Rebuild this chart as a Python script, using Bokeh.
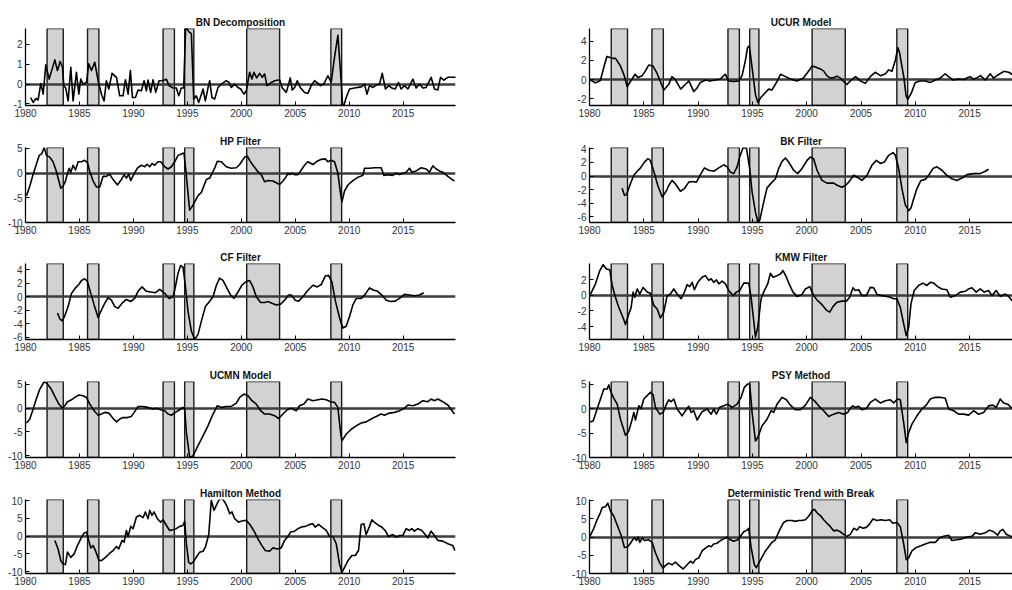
from bokeh.plotting import figure
from bokeh.layouts import gridplot
from bokeh.models import FixedTicker
from bokeh.embed import file_html
from bokeh.resources import INLINE

# Recession dates (start, end) in decimal years
REC_START = [1982.0, 1985.75, 1992.75, 1994.75, 2000.5, 2008.3]
REC_END = [1983.5, 1986.8, 1993.8, 1995.6, 2003.55, 2009.3]

YEAR_TICKS = [1980, 1985, 1990, 1995, 2000, 2005, 2010, 2015]

# Output-gap estimates: (year, gap in %)
BN_DECOMP = [
    (1980.49, -0.68), (1980.71, -0.93), (1980.96, -0.73), (1981.17, -0.80), (1981.42, 0.03),
    (1981.64, -0.51), (1981.88, 0.97), (1982.19, 0.25), (1982.72, 1.22), (1982.96, 0.68),
    (1983.21, 1.14), (1983.43, 0.85), (1983.55, -0.08), (1983.73, -0.20), (1983.95, -0.85),
    (1984.20, 0.85), (1984.41, -0.85), (1984.72, 0.59), (1984.94, -0.51), (1985.12, 0.25),
    (1985.34, 0.00), (1985.65, 0.08), (1985.86, 1.02), (1986.11, 0.68), (1986.42, 1.10),
    (1986.73, 0.17), (1987.04, -0.51), (1987.28, -0.85), (1987.50, 0.17), (1987.72, -0.25),
    (1988.02, 0.54), (1988.43, 0.34), (1988.73, -0.59), (1989.04, -0.59), (1989.26, 0.22),
    (1989.51, -0.51), (1989.72, 0.68), (1989.91, -0.68), (1990.19, -0.68), (1990.43, -0.30),
    (1990.74, -0.34), (1990.99, 0.17), (1991.20, -0.34), (1991.36, 0.20), (1991.60, -0.42),
    (1991.82, 0.22), (1992.07, -0.42), (1992.38, 0.17), (1992.69, 0.17), (1993.06, 0.24),
    (1993.30, -0.08), (1993.67, -0.20), (1993.98, -0.20), (1994.20, -0.59), (1994.44, -0.20),
    (1994.66, -0.20), (1994.85, 2.90), (1995.15, 2.63), (1995.37, 2.54), (1995.59, -0.76),
    (1995.83, -0.59), (1996.05, -0.93), (1996.30, -0.51), (1996.45, -0.25), (1996.67, -0.85),
    (1996.91, -0.20), (1997.07, 0.17), (1997.28, -0.68), (1997.53, -0.76), (1997.84, -0.17),
    (1998.15, 0.00), (1998.61, 0.17), (1998.86, 0.08), (1999.07, -0.17), (1999.38, 0.00),
    (1999.69, -0.17), (1999.94, -0.25), (2000.25, -0.51), (2000.46, -0.34), (2000.77, 0.59),
    (2000.99, 0.25), (2001.17, 0.59), (2001.42, 0.31), (2001.70, 0.54), (2001.94, 0.34),
    (2002.16, 0.51), (2002.38, -0.08), (2002.78, 0.08), (2003.09, 0.17), (2003.55, 0.22),
    (2003.80, -0.20), (2004.17, -0.42), (2004.54, 0.31), (2004.72, -0.30), (2004.94, -0.17),
    (2005.19, 0.17), (2005.46, -0.17), (2005.86, -0.42), (2006.17, -0.47), (2006.48, -0.08),
    (2006.79, 0.17), (2007.10, 0.03), (2007.35, -0.08), (2007.65, 0.00), (2008.02, 0.42),
    (2008.33, 0.08), (2008.64, 1.36), (2008.95, 2.46), (2009.26, 0.08), (2009.41, -1.25),
    (2009.72, -0.68), (2010.03, -0.25), (2010.49, -0.20), (2011.11, -0.14), (2011.42, 0.00),
    (2011.64, -0.51), (2011.88, -0.08), (2012.19, -0.17), (2012.50, -0.05), (2012.81, 0.00),
    (2013.06, 0.54), (2013.36, -0.25), (2013.67, -0.08), (2013.95, -0.20), (2014.26, -0.25),
    (2014.57, 0.08), (2014.81, -0.25), (2015.12, -0.08), (2015.43, -0.25), (2015.90, 0.25),
    (2016.20, -0.20), (2016.51, 0.00), (2016.82, -0.20), (2017.13, -0.17), (2017.59, 0.34),
    (2017.90, -0.25), (2018.21, -0.30), (2018.46, 0.34), (2018.77, 0.20), (2019.14, 0.34),
    (2019.91, 0.34),
]

UCUR_MODEL = [
    (1980.0, 0.0), (1980.55, -0.35), (1981.0, -0.1), (1981.3, 1.2), (1981.6, 2.4),
    (1982.1, 2.2), (1982.4, 2.2), (1982.85, 1.4), (1983.2, 0.4), (1983.47, -0.75),
    (1983.8, -0.15), (1984.2, 0.55), (1984.45, 0.2), (1984.85, 0.4), (1985.15, 0.9),
    (1985.45, 1.5), (1985.85, 1.4), (1986.2, 0.7), (1986.5, -0.15), (1986.85, -1.1),
    (1987.3, -0.5), (1987.6, 0.3), (1987.9, 0.0), (1988.4, -1.0), (1988.7, -0.65),
    (1989.15, -0.15), (1989.6, -1.25), (1989.9, -0.9), (1990.2, -0.3), (1990.7, -0.05),
    (1991.1, -0.15), (1991.6, -0.05), (1992.05, 0.05), (1992.5, 0.55), (1992.8, -0.15),
    (1993.3, -0.2), (1993.75, -0.15), (1994.05, 0.4), (1994.35, 1.95), (1994.55, 3.3),
    (1994.72, 3.5), (1994.97, 1.25), (1995.28, -1.55), (1995.5, -2.4), (1995.75, -1.9),
    (1996.2, -1.35), (1996.5, -1.0), (1996.8, -1.1), (1997.3, -0.15), (1997.6, 0.55),
    (1998.05, 0.3), (1998.5, 0.05), (1999.1, -0.15), (1999.7, 0.15), (2000.2, 0.9),
    (2000.5, 1.4), (2000.8, 1.3), (2001.25, 1.1), (2001.55, 0.9), (2001.85, 0.4),
    (2002.2, 0.15), (2002.5, 0.2), (2002.8, 0.35), (2003.1, 0.15), (2003.4, -0.2),
    (2003.7, -0.5), (2004.2, 0.05), (2004.5, 0.3), (2004.95, -0.15), (2005.4, -0.4),
    (2005.85, 0.3), (2006.3, 0.75), (2006.8, 0.4), (2007.25, 0.6), (2007.55, 1.0),
    (2007.85, 0.85), (2008.15, 1.95), (2008.4, 3.3), (2008.55, 2.8), (2008.95, 0.2),
    (2009.15, -1.7), (2009.3, -2.05), (2009.6, -1.5), (2010.0, -0.3), (2010.45, -0.15),
    (2010.9, -0.15), (2011.4, -0.3), (2011.85, -0.05), (2012.3, 0.15), (2012.75, 0.6),
    (2013.05, 0.3), (2013.5, -0.05), (2013.95, 0.05), (2014.45, 0.0), (2014.75, 0.15),
    (2015.05, 0.3), (2015.35, 0.05), (2015.65, 0.15), (2016.0, 0.4), (2016.45, -0.05),
    (2016.9, 0.6), (2017.2, 0.15), (2017.65, 0.5), (2018.15, 0.85), (2018.6, 0.75),
    (2018.9, 0.55), (2019.3, 0.5), (2019.9, 0.45),
]

HP_FILTER = [
    (1980.1, -4.6), (1980.4, -2.6), (1980.7, -0.3), (1981.0, 1.75), (1981.27, 3.6),
    (1981.5, 3.9), (1981.73, 5.2), (1981.95, 3.6), (1982.25, 3.25), (1982.55, 2.3),
    (1982.87, 0.3), (1983.27, -3.05), (1983.49, -2.6), (1983.7, -1.6), (1983.9, 0.0),
    (1984.05, 1.0), (1984.2, 0.2), (1984.41, 1.6), (1984.63, 0.65), (1984.88, 2.3),
    (1985.19, 2.3), (1985.49, 2.6), (1985.74, 2.15), (1985.96, 0.3), (1986.27, -1.6),
    (1986.57, -2.8), (1986.88, -2.8), (1987.19, -0.65), (1987.5, -0.65), (1987.8, -0.2),
    (1988.12, -1.3), (1988.52, -2.4), (1988.89, -1.3), (1989.14, -0.3), (1989.35, -1.0),
    (1989.57, -0.2), (1989.75, -1.5), (1990.03, -0.3), (1990.37, 1.0), (1990.74, 1.6),
    (1991.05, 1.3), (1991.27, 1.8), (1991.51, 1.3), (1991.73, 1.95), (1991.98, 1.6),
    (1992.28, 2.3), (1992.53, 2.3), (1992.9, 1.3), (1993.21, 0.85), (1993.52, 1.3),
    (1993.83, 2.3), (1994.14, 3.6), (1994.44, 3.9), (1994.69, 4.1), (1994.9, -0.3),
    (1995.21, -7.5), (1995.52, -6.5), (1995.99, -4.55), (1996.3, -3.9), (1996.76, -1.3),
    (1997.07, -1.0), (1997.53, 1.0), (1997.78, 2.4), (1998.15, 2.3), (1998.61, 1.3),
    (1999.07, 1.0), (1999.54, 1.1), (1999.85, 1.75), (2000.31, 3.25), (2000.56, 3.45),
    (2000.77, 2.6), (2001.08, 1.6), (2001.54, 0.3), (2001.85, -0.3), (2002.16, -1.75),
    (2002.47, -1.5), (2002.93, -1.6), (2003.24, -1.95), (2003.55, -2.3), (2003.86, -1.6),
    (2004.17, -0.65), (2004.32, 0.0), (2004.48, -0.3), (2004.69, 0.0), (2004.94, -0.3),
    (2005.25, -0.3), (2005.56, 0.65), (2005.86, 1.6), (2006.17, 2.3), (2006.64, 1.75),
    (2006.94, 2.3), (2007.41, 2.8), (2007.78, 2.9), (2008.02, 2.3), (2008.33, 2.6),
    (2008.64, 2.3), (2008.95, 0.0), (2009.2, -4.2), (2009.32, -5.85), (2009.57, -3.6),
    (2009.88, -2.4), (2010.34, -1.5), (2010.8, -0.85), (2011.27, -0.45), (2011.42, 1.0),
    (2011.88, 1.0), (2012.35, 1.1), (2012.96, 1.1), (2013.21, -0.45), (2013.58, -0.3),
    (2014.04, -0.45), (2014.35, 0.0), (2014.66, -0.3), (2014.97, 0.0), (2015.28, 0.2),
    (2015.59, 1.0), (2015.8, 0.2), (2016.2, 0.45), (2016.67, 1.1), (2017.13, 0.85),
    (2017.44, 0.2), (2017.75, 1.5), (2018.06, 0.85), (2018.36, 0.45), (2018.67, 0.2),
    (2019.14, -0.65), (2019.75, -1.6),
]

BK_FILTER = [
    (1983.0, -1.8), (1983.22, -2.85), (1983.4, -2.75), (1983.77, -1.15), (1984.08, 0.1),
    (1984.39, 0.7), (1984.7, 1.2), (1985.06, 2.05), (1985.37, 2.55), (1985.6, 2.3),
    (1985.92, 0.7), (1986.29, -1.4), (1986.69, -3.1), (1987.06, -2.25), (1987.3, -1.4),
    (1987.6, -0.65), (1987.9, -1.15), (1988.37, -2.25), (1988.74, -1.85), (1989.14, -0.9),
    (1989.45, -0.8), (1989.85, -0.9), (1990.21, 0.2), (1990.58, 1.2), (1990.98, 0.85),
    (1991.44, 0.7), (1991.9, 1.2), (1992.36, 1.65), (1992.67, 1.35), (1992.97, 0.6),
    (1993.28, 0.35), (1993.59, 1.35), (1993.83, 2.8), (1994.14, 4.15), (1994.45, 4.15),
    (1994.75, 1.1), (1994.97, -2.35), (1995.28, -5.3), (1995.49, -6.7), (1995.67, -6.55),
    (1996.04, -3.85), (1996.35, -1.75), (1996.81, -0.9), (1997.12, -0.4), (1997.42, 1.1),
    (1997.73, 2.15), (1998.04, 2.65), (1998.34, 2.05), (1998.8, 0.85), (1999.17, 0.35),
    (1999.57, 1.1), (2000.03, 2.3), (2000.34, 2.8), (2000.64, 2.55), (2000.95, 0.85),
    (2001.41, -0.65), (2001.87, -1.05), (2002.48, -1.05), (2002.85, -1.4), (2003.25, -1.65),
    (2003.56, -1.4), (2003.87, -0.9), (2004.33, 0.1), (2004.63, -0.15), (2005.09, -0.65),
    (2005.55, 0.1), (2006.01, 1.6), (2006.41, 2.3), (2006.78, 1.85), (2007.15, 2.05),
    (2007.55, 3.05), (2007.95, 3.45), (2008.16, 3.05), (2008.47, 1.1), (2008.77, -1.85),
    (2009.08, -4.25), (2009.39, -5.1), (2009.6, -4.7), (2009.85, -3.35), (2010.15, -1.85),
    (2010.52, -0.65), (2010.92, -0.5), (2011.23, 0.1), (2011.63, 1.1), (2011.99, 1.35),
    (2012.45, 0.85), (2012.91, 0.1), (2013.37, -0.4), (2013.83, -0.65), (2014.29, -0.3),
    (2014.75, 0.2), (2015.37, 0.35), (2015.98, 0.35), (2016.44, 0.7), (2016.75, 1.0),
]

CF_FILTER = [
    (1982.96, -2.4), (1983.18, -3.25), (1983.4, -3.55), (1983.58, -3.05), (1983.95, -1.45),
    (1984.26, 0.5), (1984.63, 1.3), (1984.94, 1.8), (1985.19, 2.4), (1985.49, 2.65),
    (1985.74, 2.25), (1986.05, 0.5), (1986.36, -1.2), (1986.73, -3.05), (1987.04, -1.95),
    (1987.35, -0.95), (1987.65, -0.15), (1987.96, -0.5), (1988.27, -1.45), (1988.58, -1.7),
    (1988.95, -0.95), (1989.35, -0.4), (1989.75, -0.7), (1990.12, -0.25), (1990.43, 0.8),
    (1990.8, 1.45), (1991.2, 0.8), (1991.6, 0.7), (1992.04, 0.6), (1992.44, 1.1),
    (1992.9, 0.5), (1993.3, -0.25), (1993.67, 0.0), (1993.89, 1.45), (1994.14, 3.5),
    (1994.38, 4.6), (1994.6, 4.35), (1994.81, 1.7), (1995.06, -2.15), (1995.37, -5.05),
    (1995.68, -6.3), (1995.99, -5.55), (1996.3, -3.6), (1996.67, -1.45), (1997.07, -0.65),
    (1997.38, 0.0), (1997.69, 1.7), (1997.99, 2.75), (1998.3, 2.4), (1998.61, 1.45),
    (1999.01, 0.25), (1999.32, -0.25), (1999.69, 0.7), (2000.06, 1.7), (2000.46, 2.25),
    (2000.77, 2.4), (2001.08, 1.45), (2001.39, 0.0), (2001.79, -0.85), (2002.16, -0.85),
    (2002.47, -0.7), (2002.84, -0.95), (2003.24, -1.2), (2003.64, -1.1), (2004.01, -0.5),
    (2004.38, 0.25), (2004.63, 0.25), (2005.0, -0.5), (2005.31, -0.65), (2005.71, 0.0),
    (2006.17, 0.95), (2006.64, 1.7), (2007.04, 1.45), (2007.41, 1.8), (2007.78, 3.05),
    (2008.09, 3.15), (2008.4, 2.15), (2008.7, -0.5), (2009.11, -3.15), (2009.41, -4.6),
    (2009.72, -4.35), (2010.03, -2.9), (2010.34, -1.2), (2010.65, -0.25), (2011.11, -0.25),
    (2011.48, 0.35), (2011.88, 1.3), (2012.28, 0.95), (2012.65, 0.8), (2013.02, 0.25),
    (2013.43, -0.5), (2013.83, -0.7), (2014.26, -0.65), (2014.66, -0.25), (2015.12, 0.35),
    (2015.59, 0.25), (2016.05, 0.15), (2016.51, 0.25), (2016.91, 0.6),
]

KMW_FILTER = [
    (1980.1, 0.15), (1980.55, 1.45), (1980.95, 3.15), (1981.26, 3.9), (1981.56, 3.35),
    (1981.87, 3.25), (1982.09, 1.25), (1982.39, -0.25), (1982.7, -1.55), (1983.1, -2.9),
    (1983.31, -3.75), (1983.62, -2.4), (1983.83, -1.6), (1984.02, 0.4), (1984.17, -0.25),
    (1984.39, 0.8), (1984.63, 0.15), (1984.94, 1.0), (1985.31, 0.4), (1985.61, 0.25),
    (1985.92, -1.3), (1986.23, -1.75), (1986.53, -2.9), (1986.84, -2.15), (1987.15, -0.05),
    (1987.45, 0.15), (1987.76, 0.8), (1988.07, 0.15), (1988.44, -0.45), (1988.74, 0.4),
    (1988.99, 1.35), (1989.23, 1.1), (1989.45, 1.65), (1989.66, 0.7), (1989.97, 1.65),
    (1990.37, 2.3), (1990.67, 2.5), (1990.98, 1.9), (1991.2, 2.1), (1991.44, 1.65),
    (1991.69, 1.95), (1991.9, 1.45), (1992.21, 1.8), (1992.52, 1.45), (1992.82, 0.6),
    (1993.22, -0.05), (1993.53, 0.4), (1993.83, 0.6), (1994.2, 1.55), (1994.66, 1.55),
    (1994.88, -0.25), (1995.12, -3.25), (1995.28, -5.35), (1995.49, -4.1), (1995.8, -0.45),
    (1996.1, 0.6), (1996.41, 1.45), (1996.66, 2.8), (1996.9, 2.3), (1997.27, 2.5),
    (1997.58, 2.7), (1997.82, 3.15), (1998.13, 2.3), (1998.44, 1.25), (1998.74, 0.4),
    (1999.11, -0.15), (1999.57, 0.1), (1999.88, 0.8), (2000.28, 1.1), (2000.64, -0.05),
    (2001.01, -0.7), (2001.41, -1.2), (2001.81, -1.9), (2002.12, -2.15), (2002.42, -1.45),
    (2002.79, -0.9), (2003.25, -0.75), (2003.65, -0.75), (2003.96, -0.25), (2004.26, 0.95),
    (2004.48, 0.6), (2004.79, 0.7), (2005.09, -0.05), (2005.49, -0.05), (2005.86, 1.0),
    (2006.17, 0.95), (2006.47, 0.1), (2006.93, -0.05), (2007.39, -0.15), (2007.7, -0.25),
    (2008.01, -0.45), (2008.31, -0.45), (2008.62, -1.55), (2008.93, -3.65), (2009.17, -5.15),
    (2009.39, -4.1), (2009.6, -1.1), (2009.9, 0.6), (2010.3, 1.25), (2010.7, 1.55),
    (2011.07, 1.25), (2011.38, 1.65), (2011.69, 1.55), (2012.06, 1.1), (2012.45, 0.8),
    (2012.91, 0.7), (2013.22, -0.25), (2013.68, -0.05), (2014.14, 0.4), (2014.6, 0.5),
    (2014.91, 0.8), (2015.21, 0.95), (2015.61, 0.4), (2015.98, 0.8), (2016.35, 0.4),
    (2016.75, 0.6), (2017.06, -0.05), (2017.45, 0.6), (2017.82, -0.15), (2018.28, 0.15),
    (2018.59, -0.15), (2018.93, -0.7), (2019.5, -1.0),
]

UCMN_MODEL = [
    (1980.1, -3.15), (1980.4, -2.3), (1980.71, -0.2), (1981.02, 2.05), (1981.33, 4.0),
    (1981.73, 5.55), (1981.95, 5.3), (1982.35, 4.15), (1982.72, 2.45), (1983.09, 0.85),
    (1983.4, 0.0), (1983.64, 0.5), (1983.89, 1.35), (1984.26, 1.75), (1984.57, 2.25),
    (1984.94, 2.75), (1985.34, 2.6), (1985.65, 2.25), (1985.96, 0.85), (1986.36, -0.55),
    (1986.73, -1.5), (1987.04, -1.25), (1987.35, -0.9), (1987.72, -1.05), (1988.12, -2.2),
    (1988.43, -2.9), (1988.73, -2.3), (1989.04, -2.0), (1989.44, -2.0), (1989.81, -1.75),
    (1990.12, -0.75), (1990.43, 0.35), (1990.9, 0.35), (1991.36, 0.15), (1991.82, -0.2),
    (1992.13, -0.05), (1992.53, -0.35), (1992.9, -0.55), (1993.21, -1.25), (1993.52, -1.5),
    (1993.89, -0.9), (1994.29, -0.35), (1994.6, 0.15), (1994.75, -0.2), (1994.91, -5.15),
    (1995.22, -10.4), (1995.52, -10.05), (1995.99, -7.9), (1996.45, -5.85), (1996.91, -3.75),
    (1997.38, -1.25), (1997.78, 0.5), (1998.21, 0.15), (1998.61, 0.35), (1999.07, 0.35),
    (1999.54, 1.05), (1999.85, 2.25), (2000.25, 2.95), (2000.62, 2.6), (2000.99, 1.55),
    (2001.39, 0.85), (2001.79, -0.55), (2002.16, -1.25), (2002.62, -1.25), (2003.09, -1.6),
    (2003.46, -2.2), (2003.86, -1.25), (2004.26, -0.35), (2004.63, -0.05), (2005.09, -0.55),
    (2005.4, 0.5), (2005.8, 0.85), (2006.17, 1.9), (2006.64, 1.55), (2007.1, 1.75),
    (2007.47, 1.9), (2007.87, 1.75), (2008.27, 1.35), (2008.64, 1.2), (2008.95, 0.15),
    (2009.2, -5.15), (2009.32, -6.9), (2009.72, -5.5), (2010.19, -4.45), (2010.65, -3.75),
    (2011.11, -3.15), (2011.57, -2.9), (2012.04, -2.3), (2012.5, -1.75), (2012.96, -1.25),
    (2013.27, -1.5), (2013.73, -1.05), (2014.2, -0.9), (2014.66, -0.55), (2015.12, -0.05),
    (2015.43, 0.65), (2015.9, 0.5), (2016.36, 0.85), (2016.82, 1.55), (2017.28, 1.35),
    (2017.59, 1.9), (2017.9, 1.55), (2018.21, 1.9), (2018.67, 1.35), (2019.14, 0.65),
    (2019.75, -1.25),
]

PSY_METHOD = [
    (1980.03, -2.7), (1980.34, -2.5), (1980.7, -0.05), (1981.01, 2.0), (1981.32, 4.05),
    (1981.63, 4.05), (1981.78, 4.9), (1981.93, 3.7), (1982.24, 2.15), (1982.55, 0.95),
    (1982.85, -2.15), (1983.31, -5.45), (1983.62, -4.55), (1983.93, -2.15), (1984.08, -0.75),
    (1984.23, -2.3), (1984.54, 0.6), (1984.75, 0.05), (1985.0, 2.0), (1985.31, 2.7),
    (1985.61, 3.4), (1985.86, 2.85), (1986.07, 0.3), (1986.47, -1.1), (1986.78, -0.75),
    (1987.09, 0.95), (1987.3, 1.85), (1987.52, 1.45), (1987.76, 2.0), (1988.07, -0.05),
    (1988.53, -1.45), (1988.83, -0.4), (1989.14, 0.5), (1989.36, -0.75), (1989.6, -0.4),
    (1989.91, -2.3), (1990.37, -0.6), (1990.83, -0.05), (1991.2, -1.1), (1991.44, -0.05),
    (1991.69, -1.1), (1991.99, 0.3), (1992.36, 0.6), (1992.73, 0.95), (1993.13, 0.3),
    (1993.59, 0.95), (1993.96, 2.35), (1994.26, 4.4), (1994.57, 5.1), (1994.75, 5.1),
    (1994.97, -0.75), (1995.28, -6.6), (1995.49, -5.9), (1995.89, -3.5), (1996.35, -2.15),
    (1996.72, -0.4), (1996.96, -0.75), (1997.27, 0.95), (1997.73, 2.35), (1998.13, 1.85),
    (1998.5, 0.75), (1998.96, -0.2), (1999.42, -0.2), (1999.88, 0.75), (2000.34, 2.35),
    (2000.71, 1.65), (2001.1, 0.6), (2001.56, -0.4), (2002.02, -1.6), (2002.48, -1.1),
    (2002.94, -0.75), (2003.4, -1.1), (2003.77, -0.75), (2004.08, 0.3), (2004.26, 0.6),
    (2004.48, 0.3), (2004.79, 0.5), (2005.09, -0.2), (2005.49, 0.05), (2005.86, 1.3),
    (2006.32, 2.0), (2006.78, 1.2), (2007.24, 1.65), (2007.7, 1.85), (2008.01, 1.2),
    (2008.37, 2.0), (2008.62, 1.85), (2008.93, -2.85), (2009.17, -6.95), (2009.39, -4.9),
    (2009.69, -3.15), (2010.15, -1.45), (2010.61, -0.05), (2011.01, 0.75), (2011.38, 2.0),
    (2011.84, 2.35), (2012.3, 2.35), (2012.76, 2.15), (2013.07, -0.05), (2013.53, -0.4),
    (2013.99, -1.1), (2014.45, -1.1), (2014.91, -1.3), (2015.37, -0.4), (2015.83, -1.1),
    (2016.29, -0.75), (2016.75, 0.6), (2017.15, 0.75), (2017.45, 0.3), (2017.82, 2.0),
    (2018.13, 1.2), (2018.5, 0.95), (2018.93, 0.05), (2019.5, -0.5),
]

HAMILTON_METHOD = [
    (1982.72, -1.2), (1983.02, -3.6), (1983.27, -6.9), (1983.49, -7.8), (1983.7, -8.0),
    (1983.89, -4.5), (1984.2, -5.95), (1984.51, -5.0), (1984.81, -2.65), (1985.12, -0.75),
    (1985.43, 0.85), (1985.65, 1.15), (1985.86, -1.2), (1986.05, -3.3), (1986.27, -2.65),
    (1986.48, -4.05), (1986.79, -6.7), (1987.04, -6.9), (1987.41, -5.95), (1987.81, -4.8),
    (1988.12, -4.05), (1988.43, -2.9), (1988.64, -3.6), (1988.95, -1.2), (1989.14, -1.7),
    (1989.35, 1.6), (1989.51, -0.1), (1989.75, 2.75), (1989.97, 2.1), (1990.28, 5.4),
    (1990.59, 5.85), (1990.9, 5.2), (1991.11, 6.8), (1991.36, 4.9), (1991.51, 7.25),
    (1991.73, 5.85), (1991.91, 6.8), (1992.22, 4.9), (1992.53, 3.95), (1992.75, 4.6),
    (1993.06, 3.0), (1993.36, 1.6), (1993.67, 1.8), (1993.98, 2.1), (1994.29, 2.75),
    (1994.6, 3.0), (1994.75, 4.15), (1994.91, -2.15), (1995.12, -7.35), (1995.31, -7.8),
    (1995.52, -7.35), (1995.83, -5.95), (1996.14, -4.5), (1996.45, -4.25), (1996.67, -3.1),
    (1996.98, 0.45), (1997.22, 10.1), (1997.47, 7.25), (1997.69, 8.7), (1998.0, 10.55),
    (1998.21, 10.55), (1998.46, 9.6), (1998.7, 8.2), (1998.92, 6.3), (1999.14, 6.8),
    (1999.38, 4.9), (1999.75, 3.95), (2000.06, 4.25), (2000.46, 4.45), (2000.86, 3.0),
    (2001.23, 1.15), (2001.54, -0.75), (2001.91, -2.65), (2002.22, -4.05), (2002.62, -4.25),
    (2002.93, -3.3), (2003.33, -3.6), (2003.7, -3.3), (2004.01, -1.2), (2004.32, -0.1),
    (2004.57, 1.15), (2004.94, 1.4), (2005.25, 2.1), (2005.56, 2.55), (2005.93, 2.75),
    (2006.33, 3.3), (2006.64, 3.5), (2006.85, 2.55), (2007.16, 3.3), (2007.47, 2.55),
    (2007.87, 1.6), (2008.18, -0.1), (2008.49, -0.1), (2008.8, -2.15), (2009.1, -7.8),
    (2009.32, -10.2), (2009.57, -8.75), (2009.88, -6.9), (2010.25, -5.45), (2010.56, -5.45),
    (2010.86, -4.05), (2011.11, 3.3), (2011.36, 3.5), (2011.57, 0.45), (2011.88, 2.75),
    (2012.1, 4.6), (2012.41, 3.7), (2012.72, 3.0), (2013.02, 2.55), (2013.33, 1.6),
    (2013.64, -0.1), (2014.04, 0.45), (2014.35, -0.3), (2014.66, 0.2), (2014.97, 0.2),
    (2015.28, 2.1), (2015.59, 1.6), (2015.8, 2.1), (2016.05, 1.4), (2016.36, 2.1),
    (2016.73, 1.6), (2017.04, 0.45), (2017.28, -0.5), (2017.59, 1.4), (2017.9, 0.2),
    (2018.21, -1.2), (2018.67, -1.4), (2019.14, -2.15), (2019.6, -2.65), (2019.81, -4.05),
]

DET_TREND_BREAK = [
    (1980.03, 0.2), (1980.4, 2.4), (1980.7, 4.75), (1981.0, 6.65), (1981.17, 8.1),
    (1981.47, 8.3), (1981.69, 9.3), (1981.93, 7.15), (1982.24, 5.7), (1982.55, 3.3),
    (1982.91, 0.5), (1983.22, -2.85), (1983.53, -2.65), (1983.77, -1.7), (1983.93, -0.95),
    (1984.14, -0.2), (1984.33, -0.95), (1984.48, 0.0), (1984.63, -1.45), (1984.85, -0.2),
    (1985.06, -0.95), (1985.46, -0.75), (1985.77, -1.45), (1986.07, -4.3), (1986.47, -7.15),
    (1986.78, -8.55), (1986.99, -7.8), (1987.3, -7.15), (1987.61, -7.6), (1987.91, -6.85),
    (1988.22, -7.8), (1988.62, -8.75), (1988.99, -7.6), (1989.29, -6.65), (1989.54, -7.15),
    (1989.75, -6.2), (1990.06, -5.7), (1990.37, -3.8), (1990.67, -3.05), (1990.98, -2.4),
    (1991.2, -2.65), (1991.44, -1.9), (1991.75, -1.7), (1992.06, -0.95), (1992.36, -0.5),
    (1992.67, 0.0), (1992.97, -0.75), (1993.28, -1.15), (1993.65, -0.75), (1993.9, 0.2),
    (1994.2, 1.45), (1994.51, 1.9), (1994.66, 2.4), (1994.88, -2.85), (1995.18, -7.6),
    (1995.37, -8.4), (1995.58, -7.15), (1995.89, -5.5), (1996.2, -3.8), (1996.5, -2.65),
    (1996.81, -1.45), (1997.12, -0.75), (1997.33, 0.75), (1997.58, 2.4), (1997.88, 4.0),
    (1998.19, 4.55), (1998.65, 4.55), (1998.96, 4.3), (1999.26, 4.55), (1999.57, 4.55),
    (1999.88, 4.75), (2000.18, 5.7), (2000.49, 7.15), (2000.71, 7.6), (2000.95, 6.65),
    (2001.26, 5.9), (2001.56, 4.75), (2001.87, 3.8), (2002.18, 2.85), (2002.48, 1.7),
    (2002.79, 1.9), (2003.1, 1.45), (2003.4, 0.75), (2003.71, 0.2), (2004.02, 0.75),
    (2004.33, 2.4), (2004.63, 1.9), (2004.88, 2.85), (2005.18, 2.4), (2005.49, 2.65),
    (2005.8, 3.6), (2006.1, 4.95), (2006.47, 4.55), (2006.84, 4.75), (2007.24, 4.55),
    (2007.64, 4.75), (2007.94, 3.8), (2008.31, 4.0), (2008.62, 2.85), (2008.93, -1.9),
    (2009.17, -6.2), (2009.39, -5.7), (2009.69, -3.8), (2010.09, -2.85), (2010.52, -2.4),
    (2010.92, -1.9), (2011.38, -1.45), (2011.84, -1.45), (2012.24, -0.2), (2012.61, 0.2),
    (2013.07, 0.5), (2013.37, -0.95), (2013.83, -0.75), (2014.29, -0.5), (2014.75, 0.0),
    (2015.21, 0.2), (2015.52, 1.15), (2015.98, 0.75), (2016.44, 1.15), (2016.84, 1.9),
    (2017.21, 1.45), (2017.58, 0.5), (2017.82, 1.7), (2018.06, 2.1), (2018.37, 0.75),
    (2018.93, 0.0), (2019.5, -0.5),
]

# Panel specs: title, series, y limits, y ticks
PANELS = [
    ("BN Decomposition", BN_DECOMP, (-1.08, 2.8), [-1, 0, 1, 2]),
    ("UCUR Model", UCUR_MODEL, (-2.7, 5.3), [-2, 0, 2, 4]),
    ("HP Filter", HP_FILTER, (-10, 5.2), [-10, -5, 0, 5]),
    ("BK Filter", BK_FILTER, (-6.85, 4.2), [-6, -4, -2, 0, 2, 4]),
    ("CF Filter", CF_FILTER, (-6.3, 4.9), [-6, -4, -2, 0, 2, 4]),
    ("KMW Filter", KMW_FILTER, (-5.65, 4.05), [-4, -2, 0, 2]),
    ("UCMN Model", UCMN_MODEL, (-10.4, 5.6), [-10, -5, 0, 5]),
    ("PSY Method", PSY_METHOD, (-10, 5.6), [-10, -5, 0, 5]),
    ("Hamilton Method", HAMILTON_METHOD, (-10.5, 10.3), [-10, -5, 0, 5, 10]),
    ("Deterministic Trend with Break", DET_TREND_BREAK, (-10, 10.3), [-10, -5, 0, 5, 10]),
]

# per-row geometry (top border, frame height, bottom border)
ROW_GEOM = [(28, 77, 16), (26, 75, 16), (25, 76, 16), (26, 76, 16), (26, 74, 17)]

FONT = "Liberation Sans"


def make_panel(idx, title, series, ylim, yticks):
    row_i, col_i = divmod(idx, 2)
    top_b, frame_h, bot_b = ROW_GEOM[row_i]
    right = col_i == 1
    x_hi = 2018.95 if right else 2019.85
    p = figure(
        frame_width=423 if right else 430,
        frame_height=frame_h,
        x_range=(1980, x_hi),
        y_range=ylim,
        min_border_left=89 if right else 25,
        min_border_right=0 if right else 45,
        min_border_top=top_b,
        min_border_bottom=bot_b,
        output_backend="svg",
        toolbar_location=None,
        title=title,
    )
    p.title.align = "center"
    p.title.text_font = FONT
    p.title.text_font_size = "10px"
    p.title.text_font_style = "bold"
    p.title.text_color = "#111111"
    p.title.standoff = 1
    if right:
        p.title.offset = 6

    p.outline_line_color = None
    p.grid.visible = False
    p.background_fill_color = "white"
    p.border_fill_color = "white"

    # recession shading
    p.quad(left=REC_START, right=REC_END, bottom=ylim[0], top=ylim[1],
           fill_color="#d2d2d2", line_color="#1a1a1a", line_width=1.4)
    # zero reference line
    p.hspan(y=[0], line_color="#3c3c3c", line_width=2.4)
    # the series
    xs = [t for t, _ in series]
    ys = [v for _, v in series]
    p.line(xs, ys, line_color="black", line_width=1.6, line_join="round")

    for ax in (p.xaxis[0], p.yaxis[0]):
        ax.axis_line_color = "black"
        ax.axis_line_width = 1.3
        ax.major_tick_line_color = "black"
        ax.major_tick_in = 4
        ax.major_tick_out = 0
        ax.minor_tick_line_color = None
        ax.major_label_text_font = FONT
        ax.major_label_text_font_size = "10px"
        ax.major_label_text_color = "#333333"
    p.xaxis.ticker = FixedTicker(ticks=YEAR_TICKS)
    p.xaxis.major_label_standoff = 3
    p.yaxis.ticker = FixedTicker(ticks=yticks)
    p.yaxis.major_label_overrides = {t: str(t) for t in yticks}
    p.yaxis.major_label_standoff = 3
    return p


figs = [make_panel(i, *spec) for i, spec in enumerate(PANELS)]
grid = gridplot([figs[i:i + 2] for i in range(0, 10, 2)], toolbar_location=None)

open("out.html", "w").write(file_html(grid, INLINE))
